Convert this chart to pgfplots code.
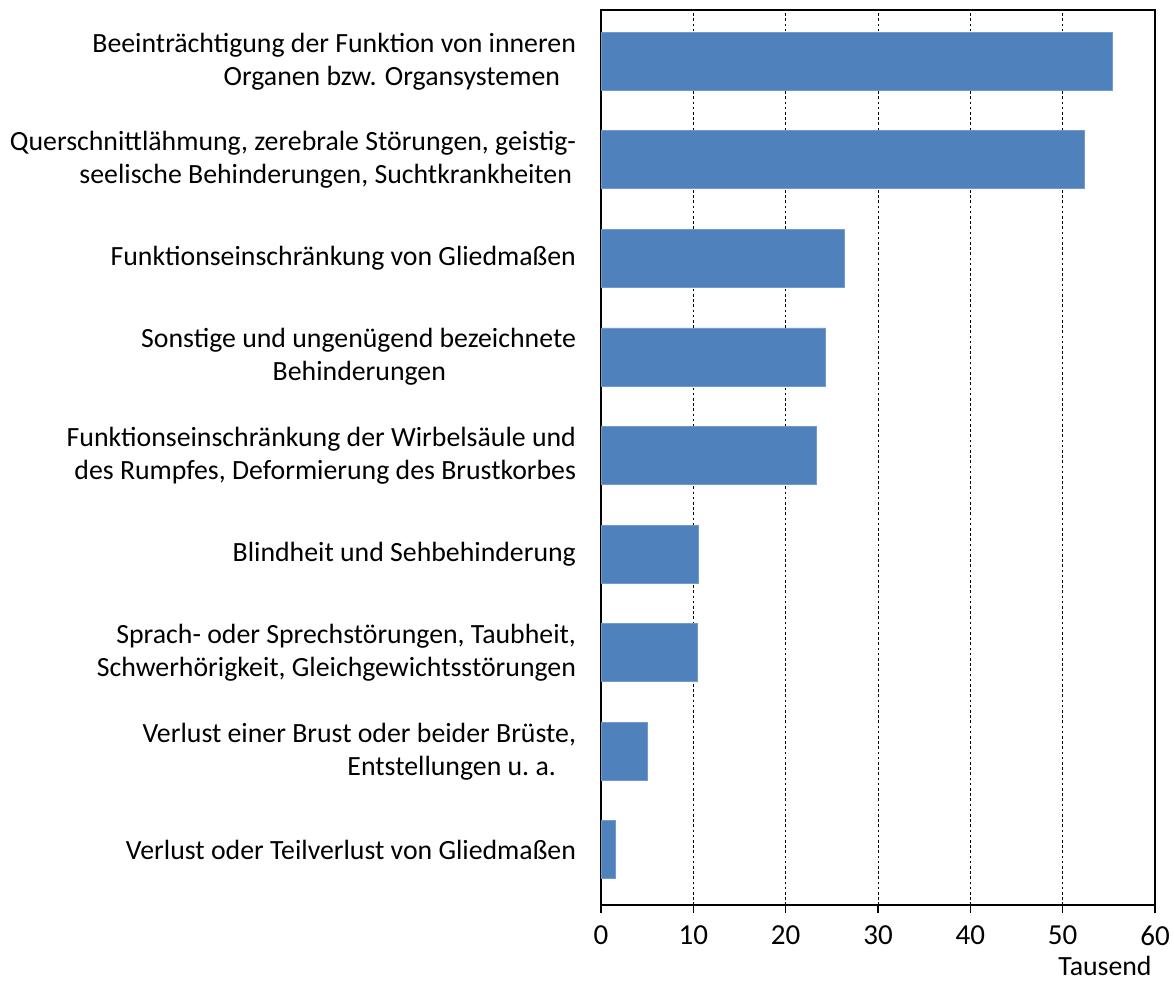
\documentclass[border=0pt]{standalone}
\usepackage{pgfplots}
\pgfplotsset{compat=1.18}
\usepackage{fontspec}
\setmainfont{Carlito}
\definecolor{barblue}{RGB}{79,129,189}
\begin{document}
\begin{tikzpicture}
\begin{axis}[
  scale only axis, width=277pt, height=447.5pt,
  xbar, bar width=29pt,
  xmin=0, xmax=60, ymin=-0.56, ymax=8.52,
  xtick={0,10,...,60},
  ytick={0,...,8},
  yticklabels={
    {Verlust oder Teilverlust von Gliedmaßen},
    {Verlust einer Brust oder beider Brüste,\\Entstellungen u.\ a.\hspace*{10pt}},
    {Sprach- oder Sprechstörungen, Taubheit,\\Schwerhörigkeit, Gleichgewichtsstörungen},
    {Blindheit und Sehbehinderung},
    {Funktionseinschränkung der Wirbelsäule und\\des Rumpfes, Deformierung des Brustkorbes},
    {Sonstige und ungenügend bezeichnete\\Behinderungen\hspace*{65pt}},
    {Funktionseinschränkung von Gliedmaßen},
    {Querschnittlähmung, zerebrale Störungen, geistig-\\seelische Behinderungen, Suchtkrankheiten\hspace*{2pt}},
    {Beeinträchtigung der Funktion von inneren\\Organen bzw. Organsystemen\hspace*{8pt}}
  },
  tick label style={font=\fontsize{13.9}{16.5}\selectfont},
  xticklabel style={font=\fontsize{14.5}{16.5}\selectfont, yshift=-3pt},
  yticklabel style={align=right, xshift=-5pt},
  y tick style={draw=none},
  xtick pos=bottom, tick align=outside, major tick length=4pt,
  xmajorgrids, grid style={black, line width=0.5pt, dash pattern=on 1.3pt off 1.3pt},
  axis line style={line width=0.9pt},
  x tick style={line width=0.7pt, black},
  /pgf/number format/assume math mode=true,
  xlabel={Tausend},
  xlabel style={at={(rel axis cs:1,0)}, anchor=north east, inner sep=0pt, yshift=-25.5pt, xshift=-1.5pt, font=\fontsize{13.9}{16.5}\selectfont},
]
\addplot[fill=barblue, draw=barblue!80!white, line width=0.4pt] coordinates {
  (1.6,0) (5.0,1) (10.4,2) (10.5,3) (23.3,4) (24.3,5) (26.4,6) (52.4,7) (55.4,8)
};
\end{axis}
\pgfresetboundingbox
\path (current axis.south west) ++(-300.5pt,-38pt) coordinate (bl);
\path (current axis.north east) ++(9.5pt,5pt) coordinate (tr);
\path (bl) rectangle (tr);
\end{tikzpicture}
\end{document}
